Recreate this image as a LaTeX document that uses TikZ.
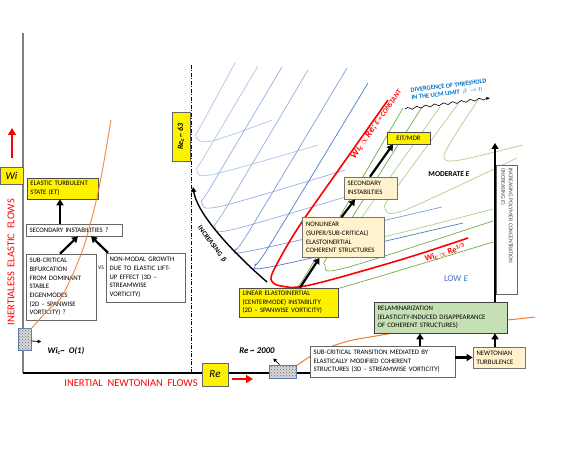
\documentclass[tikz,border=0pt]{standalone}
\usepackage{fontspec}
\setmainfont{Carlito}
\usetikzlibrary{arrows.meta,patterns,decorations.pathmorphing,calc}
\definecolor{lbA}{HTML}{AEC5EA}
\definecolor{lbB}{HTML}{94B2E2}
\definecolor{lbC}{HTML}{7A9ED8}
\definecolor{lbD}{HTML}{4F7BC8}
\definecolor{lgA}{HTML}{A9D18E}
\definecolor{lgB}{HTML}{70AD47}
\definecolor{orng}{HTML}{ED7D31}
\definecolor{tanf}{HTML}{FFF2CC}
\definecolor{grnf}{HTML}{C5E0B4}
\definecolor{divblue}{HTML}{0070C0}
\definecolor{lowblue}{HTML}{4472C4}
\definecolor{hatchblue}{HTML}{5B7DB1}
\begin{document}
\begin{tikzpicture}[x=1pt,y=-1pt,
  bx/.style={draw=black!60, line width=0.6pt, fill=white, font=\fontsize{6.8}{8.7}\selectfont, align=left, inner xsep=3.5pt, inner ysep=1pt},
  ybx/.style={bx, fill=yellow, draw=black!70},
  tbx/.style={bx, fill=tanf, draw=black!55},
  gbx/.style={bx, fill=grnf, draw=black!75},
  axbox/.style={draw=black!60, fill=yellow, line width=0.6pt, inner sep=0pt},
  bigarr/.style={-{Triangle[length=6pt,width=7pt]}, line width=2.2pt},
  thinarr/.style={-{Triangle[length=3.5pt,width=3.5pt]}, line width=0.8pt},
  redarr/.style={-{Triangle[length=7pt,width=8pt]}, line width=2.6pt, red},
  hatchbox/.style={draw=hatchblue, line width=0.8pt, preaction={fill=black!15}, pattern=crosshatch dots, pattern color=black!60, inner sep=0pt},
  bc/.style={line width=0.7pt},
  gc/.style={line width=0.7pt},
]
\fill[white] (0,0) rectangle (581,449);
\useasboundingbox (0,0) rectangle (581,449);

% ---- blue family
\draw[bc,lbA] plot[smooth,tension=0.55] coordinates {(235,63) (203,122) (196,137) (212,141) (272,120)};
\draw[bc,lbA] plot[smooth,tension=0.55] coordinates {(258,66) (207,152) (197,171) (215,174) (318,145)};
\draw[bc,lbB] plot[smooth,tension=0.55] coordinates {(282,67) (212,185) (202,203) (222,206) (345,170)};
\draw[bc,lbB] plot[smooth,tension=0.55] coordinates {(308,70) (226,208) (215,226) (235,229) (385,185)};
\draw[bc,lbC] plot[smooth,tension=0.55] coordinates {(347,68) (248,233) (236,249) (255,250) (442,207)};
\draw[bc,lbD] plot[smooth,tension=0.55] coordinates {(368,83) (268,248) (256,264) (275,266) (463,223)};

% ---- green family
\draw[gc,lgB] plot[smooth,tension=0.55] coordinates {(403,108) (310,268) (297,290) (318,294) (493,242)};
\draw[gc,lgB] plot[smooth,tension=0.55] coordinates {(422,107) (335,245) (325,265) (345,268) (493,221)};
\draw[gc,lgA] plot[smooth,tension=0.55] coordinates {(440,107) (360,220) (350,238) (370,240) (493,209)};
\draw[gc,lgA] plot[smooth,tension=0.55] coordinates {(458,104) (395,190) (385,208) (405,210) (517,158)};
\draw[gc,lgA] plot[smooth,tension=0.55] coordinates {(478,100) (452,140) (444,158) (460,160) (523,145)};

% ---- red curve
\draw[red, line width=1.6pt] plot[smooth,tension=0.55] coordinates {(388,100) (335,175) (298,228) (278,262) (271,279) (281,286) (310,285) (400,260) (468,238)};

% ---- orange bottom curve
\draw[orng, line width=1pt] plot[smooth,tension=0.6] coordinates {(296,366) (318,352) (345,342) (370,337) (440,326) (507,320) (535,317)};

% ---- axes
\coordinate (origin) at (23,373);
\coordinate (ytop) at (23,33);
\draw[black!50, line width=2.2pt] (ytop) -- (origin);
\coordinate (dtop) at (191,65);
\coordinate (dbot) at (191,373);
\draw[line width=0.6pt, dash pattern=on 4pt off 1.5pt on 1pt off 1.5pt] (dtop) -- (dbot);

% ---- boxes
\node[bx, minimum width=145pt, minimum height=31pt, text width=138pt] (subt) at (382.5,361.5) {SUB-CRITICAL TRANSITION MEDIATED BY\\ELASTICALLY MODIFIED COHERENT\\STRUCTURES (3D -- STREAMWISE VORTICITY)};
\draw[line width=1.2pt] (origin) -- (origin -| subt.west);

\node[axbox, minimum width=26pt, minimum height=23pt, font=\fontsize{11}{11}\selectfont\itshape] (re) at (215,374.5) {Re};
\node[axbox, minimum width=23pt, minimum height=17pt, font=\fontsize{10.5}{10.5}\selectfont\itshape] (wi) at (11.5,175.5) {Wi};
\node[axbox, rotate=90, minimum width=49pt, minimum height=18pt, font=\fontsize{8}{8}\selectfont\bfseries\itshape] (rec) at (181,136.5) {Re\textsubscript{c}\,\textasciitilde\ 63};

\node[hatchbox, minimum width=13pt, minimum height=22pt] (hatchL) at (24.5,339) {};
\node[hatchbox, minimum width=27pt, minimum height=13pt] (hatchB) at (282.5,371.5) {};

\node[ybx, minimum width=71pt, minimum height=21pt, text width=64pt] (et) at (62.5,188.5) {ELASTIC TURBULENT\\STATE (ET)};
\node[bx, minimum width=96pt, minimum height=12pt, text width=89pt] (secq) at (74,230) {SECONDARY INSTABILITIES ?};
\node[bx, minimum width=70pt, minimum height=66pt, text width=63pt] (subc) at (61,287) {SUB-CRITICAL\\BIFURCATION\\FROM DOMINANT\\STABLE\\EIGENMODES\\(2D -- SPANWISE\\VORTICITY) ?};
\node[bx, minimum width=79pt, minimum height=49pt, text width=72pt] (nonmod) at (145.5,277.5) {NON-MODAL GROWTH\\DUE TO ELASTIC LIFT-\\UP EFFECT (3D --\\STREAMWISE\\VORTICITY)};

\node[ybx, minimum width=99pt, minimum height=29pt, text width=92pt] (lin) at (288.5,302.5) {LINEAR ELASTOINERTIAL\\(CENTERMODE) INSTABILITY\\(2D -- SPANWISE VORTICITY)};
\node[tbx, minimum width=82pt, minimum height=40pt, text width=75pt] (nonlin) at (343.5,237.5) {NONLINEAR\\(SUPER/SUB-CRITICAL)\\ELASTOINERTIAL\\COHERENT STRUCTURES};
\node[tbx, minimum width=53pt, minimum height=22pt, text width=46pt] (sec) at (370.5,188) {SECONDARY\\INSTABILTIES};
\node[ybx, minimum width=43pt, minimum height=12pt, text width=36pt, align=center] (eit) at (408.5,138) {EIT/MDR};
\node[tbx, minimum width=52pt, minimum height=21pt, text width=45pt] (newt) at (499,357.5) {NEWTONIAN\\TURBULENCE};
\node[gbx, minimum width=133pt, minimum height=31pt, text width=126pt] (relam) at (440.5,317.5) {RELAMINARIZATION\\(ELASTICITY-INDUCED DISAPPEARANCE\\OF COHERENT STRUCTURES)};
\node[bx, rotate=-90, minimum width=129pt, minimum height=21pt, text width=122pt, font=\fontsize{5.7}{7.5}\selectfont, text=black!75] (polym) at (506.5,229.5) {INCREASING POLYMER CONCENTRATION\\(INCREASING \textit{E})};

% ---- arrows
\draw[bigarr] ([xshift=-14pt]secq.north) -- ([xshift=-14pt]secq.north |- et.south);
\draw[bigarr] ([xshift=-1pt]subc.north) -- ([xshift=4pt]secq.south);
\draw[bigarr] ([xshift=-37.5pt]nonmod.north) -- ([xshift=17pt]secq.south);

\draw[bigarr] ([xshift=11.5pt]lin.north) -- ([xshift=-24pt]nonlin.south);
\draw[bigarr] ([xshift=-2pt]nonlin.north) -- ([xshift=-15.5pt]sec.south);
\draw[bigarr] ([xshift=-0.5pt]sec.north) -- ([xshift=-15.5pt]eit.south);
\draw[bigarr] (newt.west -| subt.east) -- (newt.west);
\draw[bigarr] ([xshift=37.5pt]subt.north) -- ([xshift=37.5pt]subt.north |- relam.south);
\draw[bigarr] ([xshift=-4pt]newt.north) -- ([xshift=-4pt]newt.north |- relam.south);
\coordinate (bigtop) at (495,143);
\draw[bigarr] (relam.north -| bigtop) -- (bigtop);

% increasing beta arc
\coordinate (incA) at (267,282);
\coordinate (incB) at (193,187);
\draw[-{Triangle[length=5pt,width=5pt]}, line width=1.4pt] (incA) .. controls (230,250) and (197,213) .. (incB);
\node[font=\fontsize{7}{7}\selectfont\bfseries, rotate=-53] (incb) at (212,244) {INCREASING\ \ β};

% red axis arrows
\coordinate (rA) at (232,379);
\coordinate (rB) at (253,379);
\draw[redarr] (rA) -- (rB);
\coordinate (wA) at (12,158);
\coordinate (wB) at (12,128);
\draw[redarr] (wA) -- (wB);

% labels
\node[red, font=\fontsize{10.5}{10.5}\selectfont] (xlab) at (131,383) {INERTIAL\ \ NEWTONIAN\ \ FLOWS};
\node[red, rotate=90, font=\fontsize{10.5}{10.5}\selectfont] (ylab) at (11,262) {INERTIALESS\ \ ELASTIC\ \ FLOWS};
\node[font=\fontsize{5.5}{5.5}\selectfont] (vs) at (101,268) {VS};

\node[font=\fontsize{8.6}{8.6}\selectfont\bfseries\itshape] (wiO) at (66,351) {Wi\textsubscript{c}\textasciitilde\ \ O(1)};
\node[font=\fontsize{8.8}{8.8}\selectfont\bfseries\itshape] (re2k) at (257,351) {Re \textasciitilde\ 2000};
\draw[thinarr] ([yshift=-2pt]hatchL.east) -- ([xshift=-3pt,yshift=2pt]wiO.north west);
\draw[thinarr] ([xshift=-3pt]hatchB.north) -- ([xshift=-5pt,yshift=-1pt]re2k.south east);

\node[red, rotate=55, font=\bfseries\itshape] (wire) at (376,124) {{\fontsize{9.5}{9.5}\selectfont Wi\textsubscript{c} $\propto$ Re;} {\fontsize{7}{7}\selectfont E = CONSTANT}};
\node[red, rotate=17, font=\fontsize{8.5}{8.5}\selectfont\bfseries] (wire13) at (445,253) {Wi\textsubscript{C} $\propto$ Re\textsuperscript{1/3}};
\node[divblue, rotate=7, align=left, font=\fontsize{6.4}{7.5}\selectfont\bfseries] (div) at (449,90) {DIVERGENCE OF THRESHOLD\\IN THE UCM LIMIT\ \ $\beta \rightarrow 0$};
\coordinate (wvA) at (405,109);
\coordinate (wvB) at (490,98);
\draw[decorate, decoration={snake, amplitude=1.2pt, segment length=9pt, post length=3pt}, -{Stealth[length=4pt]}, line width=0.6pt] (wvA) -- (wvB);
\node[font=\fontsize{7.5}{7.5}\selectfont\bfseries] (mod) at (449,174) {MODERATE \textit{E}};
\node[lowblue, font=\fontsize{9}{9}\selectfont] (low) at (456,279) {LOW \textit{E}};

% left orange curve
\draw[orng, line width=1pt, opacity=0.85] plot[smooth,tension=0.6] coordinates {(31,329) (47,311) (62,296) (80,257) (90,225) (100,183) (111,120)};
\end{tikzpicture}
\end{document}
